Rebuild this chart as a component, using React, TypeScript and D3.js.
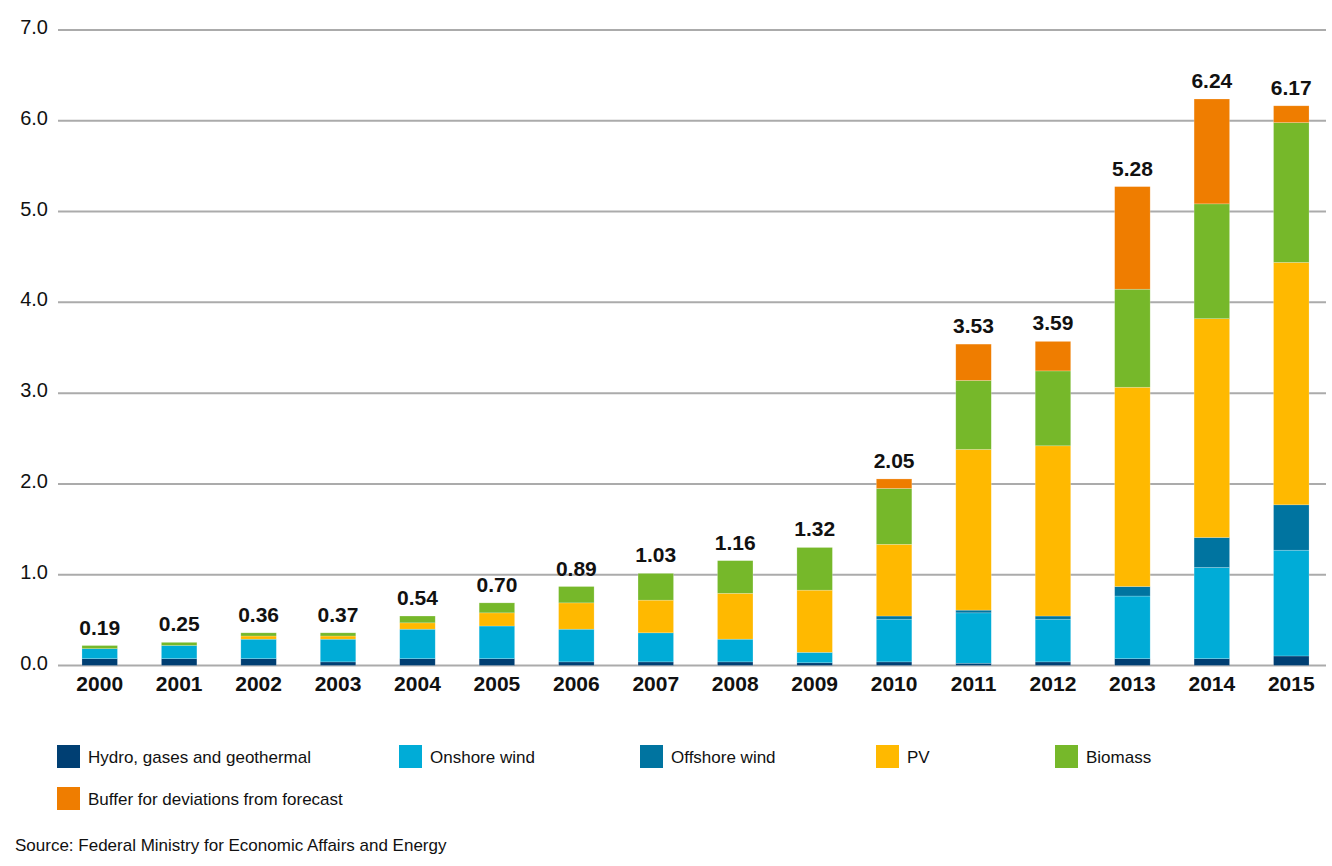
import { useEffect, useRef } from 'react'
import * as d3 from 'd3'

// Years on the x axis
const years = ['2000', '2001', '2002', '2003', '2004', '2005', '2006', '2007', '2008', '2009', '2010', '2011', '2012', '2013', '2014', '2015']

// Segment values
const hydro = [0.075, 0.075, 0.075, 0.04, 0.075, 0.075, 0.04, 0.04, 0.04, 0.03, 0.04, 0.025, 0.04, 0.075, 0.075, 0.105]
const onshore = [0.11, 0.145, 0.215, 0.25, 0.325, 0.36, 0.36, 0.32, 0.25, 0.115, 0.47, 0.555, 0.47, 0.69, 1.005, 1.165]
const offshore = [0, 0, 0, 0, 0, 0, 0, 0, 0, 0, 0.035, 0.03, 0.035, 0.105, 0.33, 0.5]
const pv = [0, 0, 0.035, 0.035, 0.07, 0.145, 0.29, 0.36, 0.505, 0.685, 0.79, 1.77, 1.875, 2.195, 2.41, 2.67]
const biomass = [0.035, 0.035, 0.035, 0.035, 0.075, 0.11, 0.18, 0.295, 0.36, 0.47, 0.615, 0.76, 0.825, 1.08, 1.265, 1.54]
const buffer = [0, 0, 0, 0, 0, 0, 0, 0, 0, 0, 0.105, 0.4, 0.325, 1.13, 1.155, 0.185]

// Total labels above the bars
const totals = ['0.19', '0.25', '0.36', '0.37', '0.54', '0.70', '0.89', '1.03', '1.16', '1.32', '2.05', '3.53', '3.59', '5.28', '6.24', '6.17']

const yTicks = [0, 1, 2, 3, 4, 5, 6, 7]

const seriesNames = ['Hydro, gases and geothermal', 'Onshore wind', 'Offshore wind', 'PV', 'Biomass', 'Buffer for deviations from forecast']
const seriesColors = ['#003f73', '#00acd7', '#0074a0', '#ffb900', '#76b82a', '#ef7d00']

const App = () => {
	const svgRef = useRef(null)

	useEffect(() => {
		document.body.style.margin = '0'
		const width = 1332
		const height = 866
		const font = '"Liberation Sans", Arial, sans-serif'
		const textColor = '#111'

		const svg = d3.select(svgRef.current)
		svg.selectAll('*').remove()
		svg.attr('width', width).attr('height', height).style('font-family', font)

		const keys = ['hydro', 'onshore', 'offshore', 'pv', 'biomass', 'buffer']
		const cols = [hydro, onshore, offshore, pv, biomass, buffer]
		const rows = years.map((y, i) => {
			const r = { year: y }
			keys.forEach((k, j) => (r[k] = cols[j][i]))
			return r
		})

		const x = d3
			.scaleBand()
			.domain(years)
			.range([60, 1331])
			.paddingInner(0.553)
			.paddingOuter(0.2765)

		const y = d3.scaleLinear().domain([0, 7]).range([665.5, 30])

		// Gridlines
		svg
			.append('g')
			.selectAll('line')
			.data(yTicks)
			.join('line')
			.attr('x1', 58)
			.attr('x2', 1326)
			.attr('y1', (d) => y(d))
			.attr('y2', (d) => y(d))
			.attr('stroke', '#ababab')
			.attr('stroke-width', 2)

		// Y tick labels
		svg
			.append('g')
			.selectAll('text')
			.data(yTicks)
			.join('text')
			.attr('x', 48)
			.attr('y', (d) => y(d) - 3)
			.attr('dy', '0.35em')
			.attr('text-anchor', 'end')
			.attr('font-size', 20)
			.attr('fill', textColor)
			.text((d) => d3.format('.1f')(d))

		// Stacked bars
		const stacked = d3.stack().keys(keys)(rows)
		svg
			.append('g')
			.selectAll('g')
			.data(stacked)
			.join('g')
			.attr('fill', (d, i) => seriesColors[i])
			.selectAll('rect')
			.data((d) => d.filter((s) => s[1] - s[0] > 0))
			.join('rect')
			.attr('x', (d) => x(d.data.year))
			.attr('width', x.bandwidth())
			.attr('y', (d) => y(d[1]))
			.attr('height', (d) => y(d[0]) - y(d[1]))
			.attr('stroke', 'rgba(255,255,255,0.35)')
			.attr('stroke-width', 0.6)

		// Total labels
		const top = stacked[stacked.length - 1]
		svg
			.append('g')
			.selectAll('text')
			.data(years)
			.join('text')
			.attr('x', (d) => x(d) + x.bandwidth() / 2)
			.attr('y', (d, i) => y(top[i][1]) - 11)
			.attr('text-anchor', 'middle')
			.attr('font-size', 21)
			.attr('font-weight', 'bold')
			.attr('fill', textColor)
			.text((d, i) => totals[i])

		// Year labels
		svg
			.append('g')
			.selectAll('text')
			.data(years)
			.join('text')
			.attr('x', (d) => x(d) + x.bandwidth() / 2)
			.attr('y', 691)
			.attr('text-anchor', 'middle')
			.attr('font-size', 21)
			.attr('font-weight', 'bold')
			.attr('fill', textColor)
			.text((d) => d)

		// Legend
		const legendPos = [
			[57, 745],
			[399, 745],
			[640, 745],
			[876, 745],
			[1055, 745],
			[57, 787],
		]
		const legend = svg
			.append('g')
			.selectAll('g')
			.data(seriesNames)
			.join('g')
			.attr('transform', (d, i) => `translate(${legendPos[i][0]},${legendPos[i][1]})`)
		legend
			.append('rect')
			.attr('width', 23)
			.attr('height', 23)
			.attr('fill', (d, i) => seriesColors[i])
		legend
			.append('text')
			.attr('x', 31)
			.attr('y', 18)
			.attr('font-size', 17)
			.attr('fill', textColor)
			.text((d) => d)

		// Source
		svg
			.append('text')
			.attr('x', 15)
			.attr('y', 851)
			.attr('font-size', 17)
			.attr('fill', textColor)
			.text('Source: Federal Ministry for Economic Affairs and Energy')
	}, [])

	return <svg ref={svgRef}></svg>
}

export default App
